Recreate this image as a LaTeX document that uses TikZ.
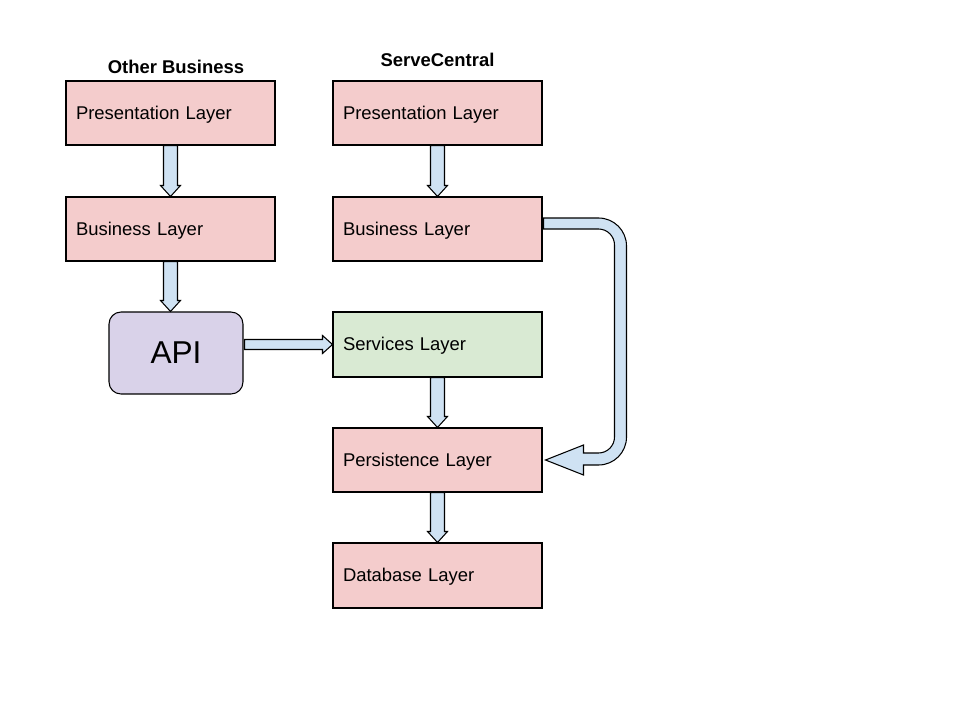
\documentclass[tikz,border=0pt]{standalone}
\usepackage{fontspec}
\setmainfont{Liberation Sans}
\usetikzlibrary{calc}

\definecolor{layerpink}{HTML}{F4CCCC}
\definecolor{layergreen}{HTML}{D9EAD3}
\definecolor{apipurple}{HTML}{D9D2E9}
\definecolor{arrowblue}{HTML}{CFE2F3}

\tikzset{
  layer/.style={draw, line width=0.6pt, fill=layerpink, text width=3.78cm, align=left,
    inner xsep=0.2cm, minimum height=1.28cm, text height=7.5pt, text depth=0.5pt,
    font=\fontsize{10.5}{12}\selectfont},
  title/.style={font=\fontsize{10.5}{12}\selectfont\bfseries},
  blockarrow/.style={draw, line width=0.6pt, fill=arrowblue, line join=miter}
}

% block arrow going down from #1 to #2
\newcommand{\vblock}[2]{%
  \draw[blockarrow] ($(#1.south)+(-7,0)$) -- ($(#2.north -| #1.south)+(-7,-11)$) -- ($(#2.north -| #1.south)+(-10,-11)$)
    -- (#2.north -| #1.south) -- ($(#2.north -| #1.south)+(10,-11)$) -- ($(#2.north -| #1.south)+(7,-11)$)
    -- ($(#1.south)+(7,0)$) -- cycle;
}

\begin{document}
\begin{tikzpicture}[x=0.02cm, y=-0.02cm]
    \useasboundingbox (0,0) rectangle (960,720);

    % Other business column
    \node[title] (otitle) at (176, 67) {Other Business};
    \node[layer] (lp) at (170.5, 113) {Presentation Layer};
    \node[layer] (lb) at (170.5, 229) {Business Layer};
    \node[draw, line width=0.6pt, fill=apipurple, rounded corners=0.24cm,
      minimum width=2.68cm, minimum height=1.64cm, font=\fontsize{18}{20}\selectfont]
      (api) at (176, 353) {API};

    % ServeCentral column
    \node[title] (stitle) at (437.5, 60) {ServeCentral};
    \node[layer] (rp) at (437.5, 113) {Presentation Layer};
    \node[layer] (rb) at (437.5, 229) {Business Layer};
    \node[layer, fill=layergreen, minimum height=1.3cm] (svc) at (437.5, 344.5) {Services Layer};
    \node[layer] (pers) at (437.5, 460) {Persistence Layer};
    \node[layer, minimum height=1.3cm] (db) at (437.5, 575.5) {Database Layer};

    % Down arrows
    \vblock{lp}{lb}
    \vblock{lb}{api}
    \vblock{rp}{rb}
    \vblock{svc}{pers}
    \vblock{pers}{db}

    % API to services
    \draw[blockarrow] ($(api.east |- svc.west)+(1,-5)$) -- ($(svc.west)+(-10,-5)$) -- ($(svc.west)+(-10,-9)$)
      -- (svc.west) -- ($(svc.west)+(-10,9)$) -- ($(svc.west)+(-10,5)$) -- ($(api.east |- svc.west)+(1,5)$) -- cycle;

    % Business layer round to persistence layer
    \draw[blockarrow] ($(rb.east)+(1,-11)$) -- ++(55,0)
      .. controls +(15.5,0) and +(0,-15.5) .. ++(28,28) -- ++(0,191)
      .. controls +(0,15.5) and +(15.5,0) .. ++(-28,28) -- ++(-15,0) -- ++(0,10)
      -- ($(pers.east)+(3,0)$) -- ($(pers.east)+(41,-15)$) -- ++(0,8) -- ++(15,0)
      .. controls +(8.8,0) and +(0,8.8) .. ++(16,-16) -- ++(0,-192)
      .. controls +(0,-8.8) and +(8.8,0) .. ++(-16,-16) -- ($(rb.east)+(1,0)$) -- cycle;
\end{tikzpicture}
\end{document}
